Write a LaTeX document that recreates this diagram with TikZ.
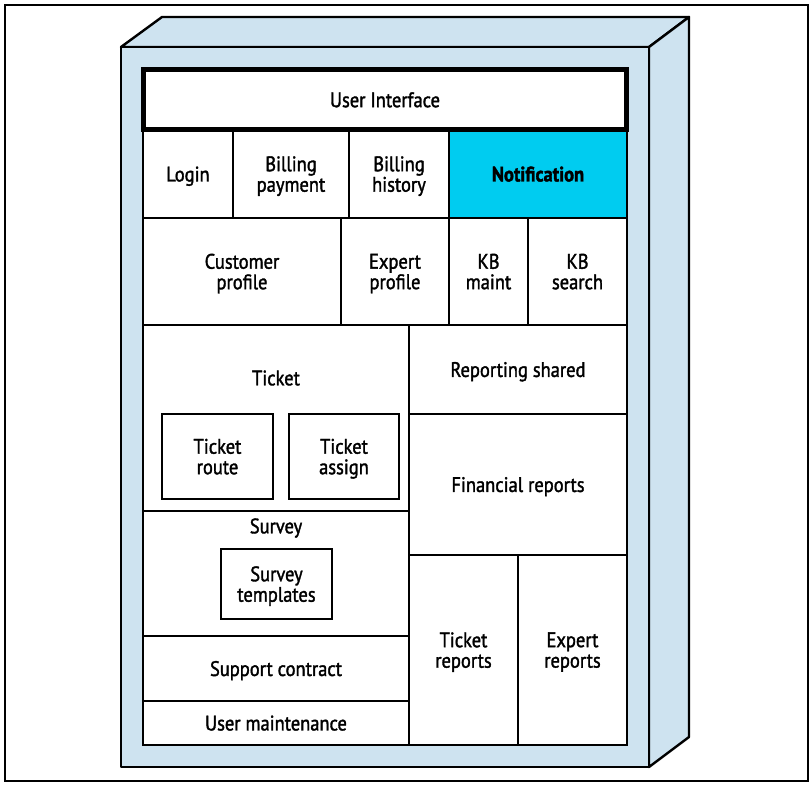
\documentclass[tikz,border=0pt]{standalone}
\usepackage{fontspec}
\setmainfont{PT Sans}[FakeStretch=0.88,FakeBold=1.6]
\usepackage{tikz}
\usetikzlibrary{positioning}
\definecolor{shell}{RGB}{206,227,240}
\definecolor{hilite}{RGB}{0,204,240}
\newcommand{\lbfont}{\fontsize{21}{20.5}\selectfont}
\tikzset{
  face/.style={draw=black,fill=shell,line width=2.4pt,line join=round},
  cell/.style={rectangle,draw=black,fill=white,line width=2pt,inner sep=0pt,align=center,font=\lbfont,text depth=0pt},
  cellhi/.style={cell,fill=hilite,font=\lbfont\bfseries},
  ui/.style={cell,line width=5pt},
  sub/.style={cell,line width=2pt},
  lb/.style={font=\lbfont,align=center},
}

\begin{document}
\begin{tikzpicture}[x=1pt,y=-1pt]
\useasboundingbox (0,0) rectangle (811,786);
\draw[line width=1.5pt] (5,5) rectangle (808,781);
% the shell: top, side, then the front face on top of both
\draw[face] (121,47) -- (162,17) -- (689,17) -- (649,47) -- cycle;
\draw[face] (649,47) -- (689,17) -- (689,737) -- (649,767) -- cycle;
\draw[face] (121,47) rectangle (649,767);
% row one
\node[cell,minimum width=90,minimum height=88] (login) at (188,174) {Login};
\node[cell,minimum width=116,minimum height=88] (billpay) at (291,174) {Billing\\payment};
\node[cell,minimum width=100,minimum height=88] (billhist) at (399,174) {Billing\\history};
\node[cellhi,minimum width=178,minimum height=88] (notif) at (538,174) {Notification};
% row two
\node[cell,minimum width=198,minimum height=107] (custprof) at (242,271.5) {Customer\\profile};
\node[cell,minimum width=108,minimum height=107] (expprof) at (395,271.5) {Expert\\profile};
\node[cell,minimum width=79,minimum height=107] (kbmaint) at (488.5,271.5) {KB\\maint};
\node[cell,minimum width=99,minimum height=107] (kbsearch) at (577.5,271.5) {KB\\search};
% left column, with the parts nested inside ticket and survey
\node[cell,minimum width=266,minimum height=186] (ticket) at (276,418) {};
\node[lb] (tickettl) at (276,378) {Ticket};
\node[sub,minimum width=111,minimum height=85] (route) at (217.5,456.5) {Ticket\\route};
\node[sub,minimum width=110,minimum height=85] (assign) at (344,456.5) {Ticket\\assign};
\node[cell,minimum width=266,minimum height=125] (survey) at (276,573.5) {};
\node[lb] (surveytl) at (276,528) {Survey};
\node[sub,minimum width=111,minimum height=70] (templ) at (276.5,584) {Survey\\templates};
\node[cell,minimum width=266,minimum height=65] (contract) at (276,668.5) {Support contract};
\node[cell,minimum width=266,minimum height=44] (usermaint) at (276,723) {User maintenance};
% right column
\node[cell,minimum width=218,minimum height=89] (repshared) at (518,369.5) {Reporting shared};
\node[cell,minimum width=218,minimum height=141] (finrep) at (518,484.5) {Financial reports};
\node[cell,minimum width=109,minimum height=190] (tickrep) at (463.5,650) {Ticket\\reports};
\node[cell,minimum width=109,minimum height=190] (exprep) at (572.5,650) {Expert\\reports};
\node[ui,minimum width=483,minimum height=60.5] (uinter) at (385,99.75) {User Interface};
\end{tikzpicture}
\end{document}
